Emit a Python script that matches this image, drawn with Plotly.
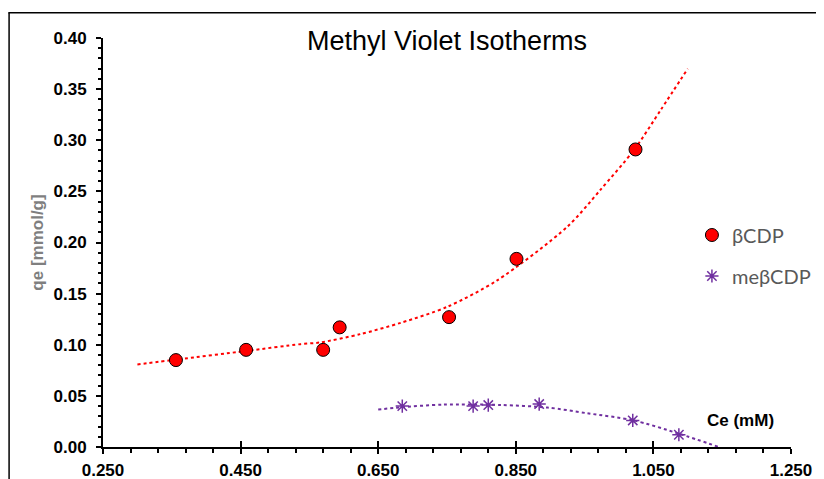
import plotly.graph_objects as go

# --- data ---
bcdp_x = [0.356, 0.458, 0.570, 0.594, 0.753, 0.851, 1.024]
bcdp_y = [0.085, 0.095, 0.095, 0.117, 0.127, 0.184, 0.291]

mebcdp_x = [0.685, 0.788, 0.810, 0.884, 1.020, 1.087]
mebcdp_y = [0.040, 0.040, 0.041, 0.042, 0.026, 0.012]

# trendlines (as drawn in the reference)
bcdp_trend_x = [0.300, 0.358, 0.459, 0.537, 0.566, 0.624, 0.683, 0.750, 0.823, 0.925, 0.973, 1.022, 1.061, 1.100]
bcdp_trend_y = [0.0807, 0.0856, 0.0940, 0.1006, 0.1023, 0.1104, 0.1215, 0.1370, 0.1630, 0.2155, 0.2515, 0.2907, 0.3300, 0.3700]

mebcdp_trend_x = [0.650, 0.682, 0.745, 0.828, 0.896, 0.954, 1.020, 1.087, 1.145]
mebcdp_trend_y = [0.0366, 0.0388, 0.0415, 0.0411, 0.0386, 0.0330, 0.0262, 0.0131, 0.0000]

x_range = [0.25, 1.25]
y_range = [0.0, 0.40]

RED = "#FF0000"
PURPLE = "#7030A0"

fig = go.Figure()

fig.add_trace(go.Scatter(x=bcdp_trend_x, y=bcdp_trend_y, mode="lines",
                         line=dict(color=RED, width=2, dash="dot", shape="spline", smoothing=0.8),
                         showlegend=False, hoverinfo="skip"))
fig.add_trace(go.Scatter(x=mebcdp_trend_x, y=mebcdp_trend_y, mode="lines",
                         line=dict(color=PURPLE, width=2, dash="dot", shape="spline", smoothing=0.8),
                         showlegend=False, hoverinfo="skip"))

fig.add_trace(go.Scatter(x=bcdp_x, y=bcdp_y, mode="markers", name="βCDP",
                         marker=dict(symbol="circle", size=13, color=RED,
                                     line=dict(color="#000000", width=1)),
                         legendgroup="a"))
fig.add_trace(go.Scatter(x=mebcdp_x, y=mebcdp_y, mode="markers", name="meβCDP",
                         marker=dict(symbol="asterisk-open", size=11, color=PURPLE,
                                     line=dict(color=PURPLE, width=1.5)),
                         legendgroup="b"))
# invisible trace on the overlay axis so its crossing ticks are drawn
fig.add_trace(go.Scatter(x=[None], y=[None], xaxis="x2", yaxis="y", mode="markers",
                         showlegend=False, hoverinfo="skip"))

tickfont = dict(family="Liberation Sans, Arial", size=17, color="#000000", weight="bold")

fig.update_layout(
    width=816, height=471,
    margin=dict(l=94.7, r=33, t=30.3, b=32.3, pad=0, autoexpand=False),
    paper_bgcolor="#FFFFFF", plot_bgcolor="#FFFFFF",
    xaxis=dict(range=x_range, showgrid=False, zeroline=False, automargin=False,
               showline=True, linecolor="#000000", linewidth=2,
               tick0=0.25, dtick=0.2, tickformat=".3f",
               ticks="outside", ticklen=5, tickwidth=1.5, tickcolor="#000000",
               ticklabelstandoff=2,
               minor=dict(tick0=0.25, dtick=0.04, ticks="outside", ticklen=4,
                          tickwidth=1.5, tickcolor="#000000", showgrid=False),
               tickfont=tickfont),
    xaxis2=dict(range=x_range, overlaying="x", anchor="y", side="bottom",
                showgrid=False, zeroline=False, showline=False, automargin=False,
                tick0=0.25, dtick=0.2, ticks="inside", ticklen=6, tickwidth=1.5,
                tickcolor="#000000", showticklabels=False),
    yaxis=dict(range=y_range, showgrid=False, zeroline=False, automargin=False,
               showline=True, linecolor="#000000", linewidth=2,
               tick0=0, dtick=0.05, tickformat=".2f",
               ticks="outside", ticklen=5, tickwidth=1.5, tickcolor="#000000",
               ticklabelstandoff=6,
               minor=dict(tick0=0, dtick=0.01, ticks="outside", ticklen=3,
                          tickwidth=1.5, tickcolor="#000000", showgrid=False),
               tickfont=tickfont,
               title=dict(text="<b>qe [mmol/g]</b>", standoff=6,
                          font=dict(family="Liberation Sans, Arial", size=17, color="#7F7F7F"))),
    legend=dict(x=0.856, y=0.566, xanchor="left", yanchor="top",
                bgcolor="rgba(0,0,0,0)", borderwidth=0,
                font=dict(family="Lato", size=20, color="#595959"),
                tracegroupgap=12, itemsizing="trace"),
    showlegend=True,
)

# title
fig.add_annotation(text="Methyl Violet Isotherms", xref="paper", yref="paper",
                   x=0.5, y=0.992, xanchor="center", yanchor="middle", showarrow=False,
                   font=dict(family="Liberation Sans, Arial", size=27, color="#000000"))
# axis title near the x axis end
fig.add_annotation(text="<b>Ce (mM)</b>", xref="paper", yref="paper",
                   x=0.927, y=0.064, xanchor="center", yanchor="middle", showarrow=False,
                   font=dict(family="Liberation Sans, Arial", size=17, color="#000000"))

# outer frame (left and top edges visible)
fig.add_shape(type="line", xref="paper", yref="paper", x0=-0.1365, x1=-0.1365, y0=1.062, y1=-0.2,
              line=dict(color="#000000", width=1.5))
fig.add_shape(type="line", xref="paper", yref="paper", x0=-0.1376, x1=1.2, y0=1.062, y1=1.062,
              line=dict(color="#000000", width=1.5))

fig.write_html("out.html")
